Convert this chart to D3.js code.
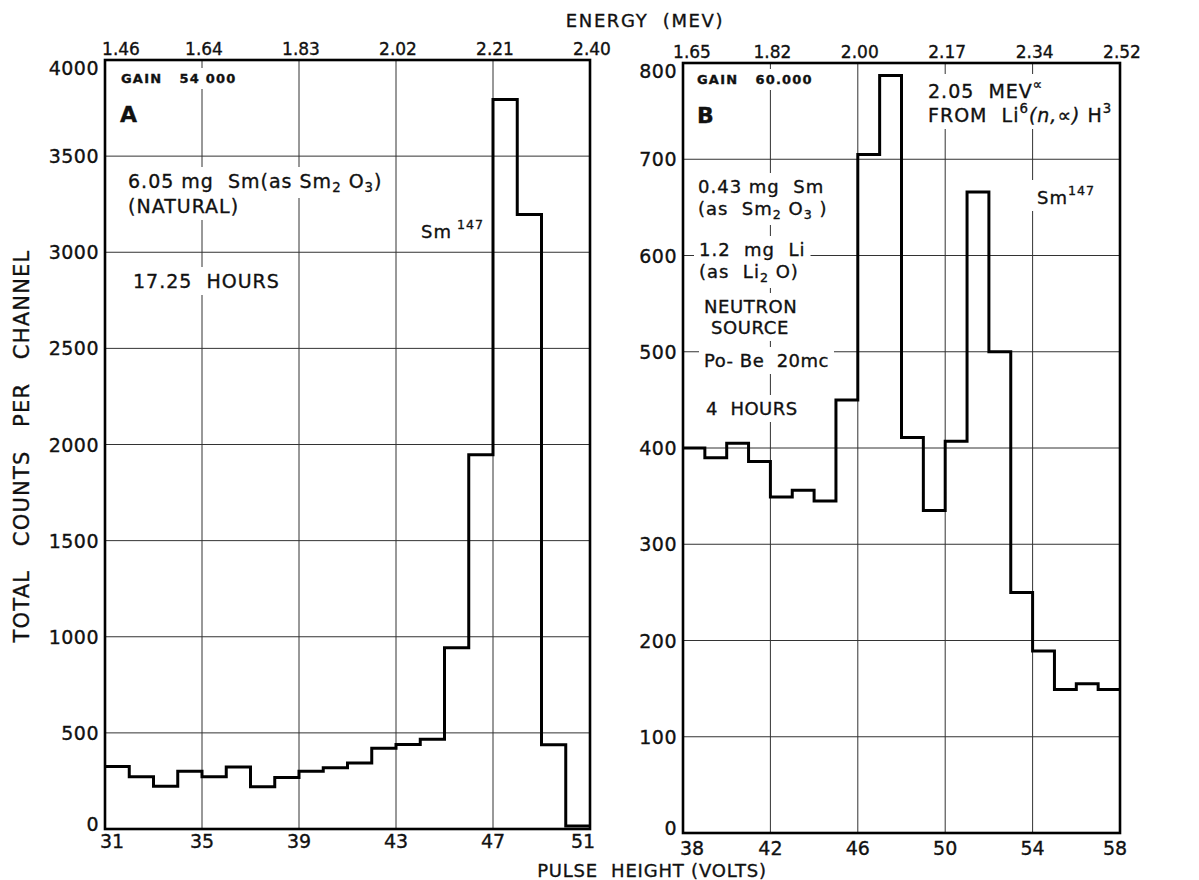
<!DOCTYPE html>
<html lang="en">
<head>
<meta charset="utf-8" />
<style>
  body { margin: 0; background: #fff; }
  text { font-family: "DejaVu Sans", sans-serif; fill: #111; stroke: #111; stroke-width: 0.35px; white-space: pre; }
  .grid { stroke: #333; stroke-width: 1px; }
  .frame { fill: none; stroke: #000; stroke-width: 2.6px; }
  .hist { fill: none; stroke: #000; stroke-width: 3px; stroke-linejoin: miter; }
</style>
</head>
<body>
<svg width="1199" height="880"></svg>
<script src="https://d3js.org/d3.v7.min.js"></script>
<script>
// panel A: channel counts, 1 volt bins from 31 to 51
var startA = 31,
    countsA = [325, 272, 222, 300, 272, 323, 220, 268, 300, 318, 343, 420, 440, 467, 943, 1947, 3794, 3197, 438, 15],
    voltTicksA = [31, 35, 39, 43, 47, 51],
    energyA = ["1.46", "1.64", "1.83", "2.02", "2.21", "2.40"],
    countTicksA = [0, 500, 1000, 1500, 2000, 2500, 3000, 3500, 4000];

// panel B: 1 volt bins from 38 to 58
var startB = 38,
    countsB = [400, 390, 405, 386, 349, 356, 345, 450, 705, 787, 411, 335, 407, 666, 500, 250, 189, 149, 155, 149],
    voltTicksB = [38, 42, 46, 50, 54, 58],
    energyB = ["1.65", "1.82", "2.00", "2.17", "2.34", "2.52"],
    countTicksB = [0, 100, 200, 300, 400, 500, 600, 700, 800];

var svg = d3.select("svg");

var panels = [
  { start: startA, counts: countsA, vt: voltTicksA, en: energyA, ct: countTicksA,
    x: d3.scaleLinear().domain([31, 51]).range([105, 590]),
    y: d3.scaleLinear().domain([0, 4000]).range([829, 60]),
    enFirst: 16, vFirst: 7, vLast: -7, vDy: 19 },
  { start: startB, counts: countsB, vt: voltTicksB, en: energyB, ct: countTicksB,
    x: d3.scaleLinear().domain([38, 58]).range([683, 1120]),
    y: d3.scaleLinear().domain([0, 800]).range([833, 63]),
    enFirst: 9, vFirst: 9, vLast: -5, vDy: 22 }
];

var labels = [];

panels.forEach(function(p) {
  var g = svg.append("g");
  var x0 = p.x.range()[0], x1 = p.x.range()[1],
      y0 = p.y.range()[0], y1 = p.y.range()[1];

  // grid
  g.selectAll(".vg").data(p.vt.slice(1, -1)).enter().append("line")
    .attr("class", "grid")
    .attr("x1", p.x).attr("x2", p.x).attr("y1", y1).attr("y2", y0);
  g.selectAll(".hg").data(p.ct.slice(1, -1)).enter().append("line")
    .attr("class", "grid")
    .attr("x1", x0).attr("x2", x1).attr("y1", p.y).attr("y2", p.y);

  p.layer = g.append("g");

  // step histogram
  var pts = p.counts.map(function(c, i) { return [p.start + i, c]; });
  pts.push([p.start + p.counts.length, p.counts[p.counts.length - 1]]);
  g.append("path")
    .attr("class", "hist")
    .attr("d", d3.line().x(function(d) { return p.x(d[0]); })
      .y(function(d) { return p.y(d[1]); }).curve(d3.curveStepAfter)(pts));

  g.append("rect").attr("class", "frame")
    .attr("x", x0).attr("y", y1).attr("width", x1 - x0).attr("height", y0 - y1);

  // count labels
  var nT = p.ct.length;
  g.selectAll(".yl").data(p.ct).enter().append("text")
    .attr("x", x0 - 6)
    .attr("y", function(d, i) { return p.y(d) + 7 + (i === nT - 1 ? 8 : i === 0 ? -5 : 0); })
    .attr("text-anchor", "end").attr("font-size", 19).attr("letter-spacing", 0.5)
    .text(function(d) { return d; });

  // volt labels
  g.selectAll(".xl").data(p.vt).enter().append("text")
    .attr("x", function(d, i) { return p.x(d) + (i === 0 ? p.vFirst : i === p.vt.length - 1 ? p.vLast : 0); })
    .attr("y", y0 + p.vDy)
    .attr("text-anchor", "middle").attr("font-size", 19)
    .text(function(d) { return d; });

  // energy labels on top
  g.selectAll(".el").data(p.en).enter().append("text")
    .attr("x", function(d, i) { return p.x(p.vt[i]) + (i === 0 ? p.enFirst : 2); })
    .attr("y", y1 - 5)
    .attr("text-anchor", "middle").attr("font-size", 17)
    .text(function(d) { return d; });
});

// annotation: parts are [text, kind]; kind shifts the baseline
function note(panel, x, y, size, parts, opts) {
  opts = opts || {};
  var t = panels[panel].layer.append("text")
    .attr("x", x).attr("y", y).attr("font-size", size)
    .attr("letter-spacing", opts.ls === undefined ? 1 : opts.ls)
    .attr("font-weight", opts.bold ? "bold" : null);
  var prev = 0;
  parts.forEach(function(s) {
    var off = s[1] === "sub" ? 4 : s[1] === "sup" ? -9 : 0;
    var ts = t.append("tspan").text(s[0]).attr("dy", off - prev);
    if (s[1] === "sub" || s[1] === "sup") ts.attr("font-size", size * 0.7);
    if (s[1] === "it") ts.attr("font-style", "italic");
    prev = off;
  });
  labels.push(t);
  return t;
}

// panel A notes
note(0, 121, 83, 13, [["GAIN   54 000"]], { bold: true, ls: 1.2 });
note(0, 120, 122, 22, [["A"]], { bold: true });
note(0, 128, 188, 19, [["6.05 mg  Sm(as Sm"], ["2", "sub"], [" O"], ["3", "sub"], [")"]]);
note(0, 128, 213, 19, [["(NATURAL)"]]);
note(0, 133, 288, 19, [["17.25  HOURS"]]);
note(0, 421, 238, 18, [["Sm"], [" 147", "sup"]]);

// panel B notes
note(1, 697, 84, 13, [["GAIN   60.000"]], { bold: true, ls: 1.2 });
note(1, 697, 123, 22, [["B"]], { bold: true });
note(1, 928, 98, 19, [["2.05  MEV"], ["\u221D", "sup"]]);
note(1, 928, 122, 19, [["FROM  Li"], ["6", "sup"], ["(n,\u221D)", "it"], [" H"], ["3", "sup"]]);
note(1, 698, 193, 18, [["0.43 mg  Sm"]]);
note(1, 698, 215, 18, [["(as  Sm"], ["2", "sub"], [" O"], ["3", "sub"], [" )"]]);
note(1, 699, 256, 18, [["1.2  mg  Li"]]);
note(1, 699, 278, 18, [["(as  Li"], ["2", "sub"], [" O)"]]);
note(1, 704, 313, 18, [["NEUTRON"]], { ls: 0.6 });
note(1, 711, 334, 18, [["SOURCE"]], { ls: 0.6 });
note(1, 704, 367, 18, [["Po- Be  20mc"]], { ls: 0.5 });
note(1, 706, 415, 18, [["4  HOURS"]], { ls: 0.5 });
note(1, 1037, 204, 18, [["Sm"], ["147", "sup"]]);

// knock out grid behind the notes
labels.forEach(function(t) {
  var b = t.node().getBBox();
  d3.select(t.node().parentNode).insert("rect", "text")
    .attr("x", b.x - 5).attr("y", b.y - 3).attr("width", b.width + 10).attr("height", b.height + 6)
    .attr("fill", "#fff");
});

// titles
svg.append("text").attr("x", 645).attr("y", 27).attr("text-anchor", "middle")
  .attr("font-size", 18).attr("letter-spacing", 1.6).text("ENERGY  (MEV)");
svg.append("text").attr("x", 652).attr("y", 877).attr("text-anchor", "middle")
  .attr("font-size", 18).attr("letter-spacing", 0.8).text("PULSE  HEIGHT (VOLTS)");
svg.append("text").attr("transform", "translate(29,446) rotate(-90)").attr("text-anchor", "middle")
  .attr("font-size", 21).attr("letter-spacing", 1.2).text("TOTAL   COUNTS   PER   CHANNEL");
</script>
</body>
</html>
